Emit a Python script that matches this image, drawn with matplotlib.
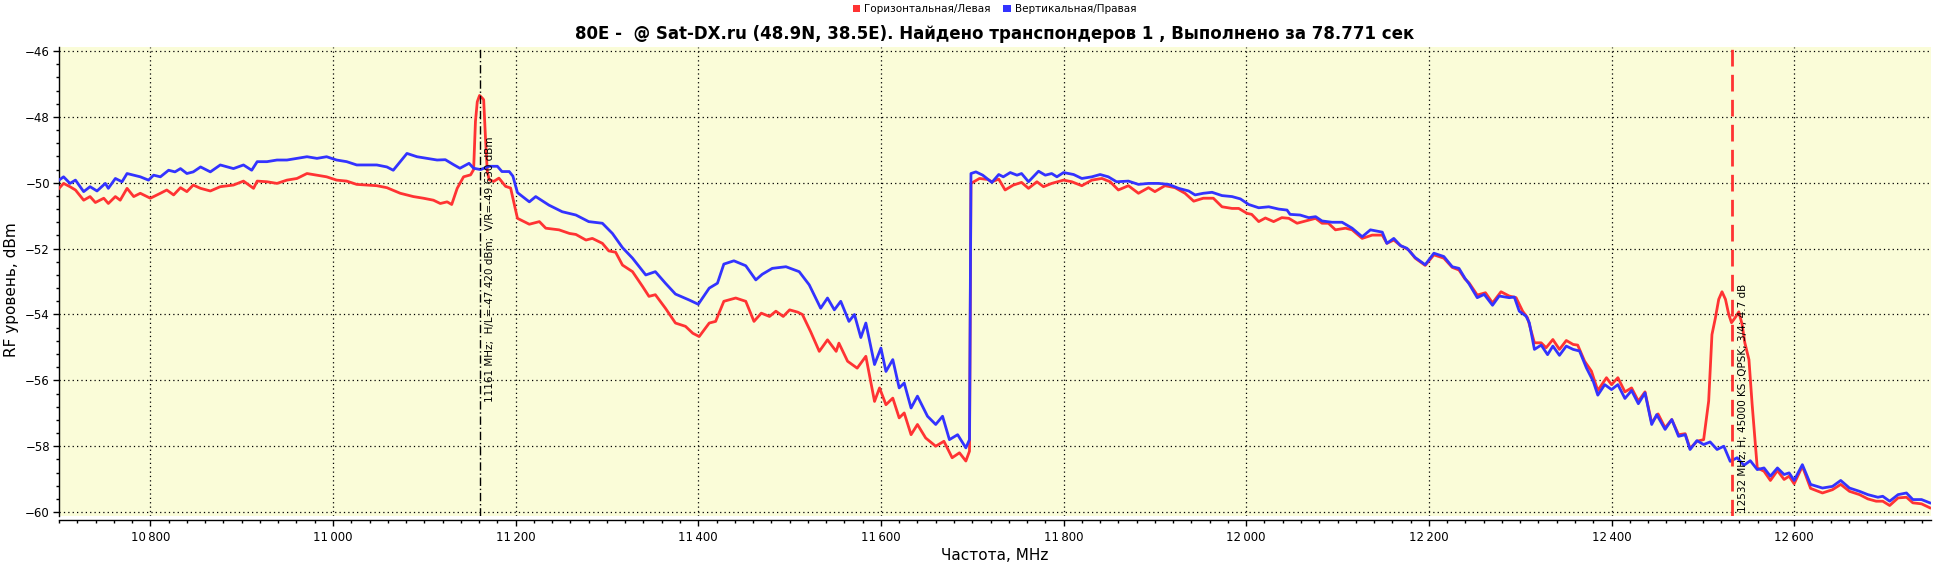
import matplotlib
matplotlib.use("Agg")
import matplotlib.pyplot as plt
from matplotlib.patches import Patch
from matplotlib.ticker import MultipleLocator, FuncFormatter

# ---------------- data ----------------
h_freq = [10700, 10705, 10712, 10718, 10727, 10734, 10739.8, 10749, 10754, 10761.7, 10767, 10774.5, 10781.8, 10789,
          10800, 10811, 10818, 10825.5, 10833, 10840, 10847, 10855, 10865.7, 10876.6, 10891, 10902, 10913, 10917,
          10927.7, 10938.7, 10949.6, 10960.6, 10971.5, 10982.5, 10993, 11004, 11015, 11026, 11037, 11048, 11059,
          11073.7, 11088, 11099, 11110, 11117.5, 11125, 11130, 11136, 11143, 11150.7, 11154, 11156, 11158, 11160.5,
          11163.5, 11165, 11167, 11169, 11171, 11176, 11181.7, 11189, 11194.5, 11202, 11215, 11226, 11233, 11247.5,
          11259, 11266, 11277, 11284, 11295, 11302, 11309.5, 11317, 11328, 11339, 11346, 11353, 11364, 11375, 11386,
          11394, 11401, 11412, 11419, 11428, 11441, 11452, 11461, 11469, 11478, 11485, 11493, 11500, 11509, 11514,
          11523, 11532.5, 11541.5, 11551, 11554, 11563.5, 11574, 11583.5, 11593, 11598.5, 11605.5, 11613, 11620,
          11625.5, 11633, 11640, 11649, 11660, 11669, 11678, 11686, 11693, 11697, 11698.6, 11708, 11717, 11721.5,
          11729, 11736, 11745, 11754, 11761.6, 11770.8, 11778, 11787, 11800, 11809, 11820, 11831, 11842, 11851,
          11860, 11871, 11882, 11893, 11900, 11911, 11922, 11933, 11942.5, 11953, 11964, 11973.5, 11984.5, 11991.8,
          12000.9, 12006, 12013.7, 12021, 12030, 12039, 12046.6, 12055.7, 12065, 12076, 12083, 12090, 12097.7,
          12108.7, 12116, 12127, 12138, 12149, 12154, 12161.6, 12169, 12178, 12185, 12196, 12205.5, 12216.4,
          12225.6, 12233, 12239.5, 12244, 12253, 12262, 12269.7, 12279, 12288, 12295.5, 12302.7, 12308, 12315.6,
          12323, 12328.4, 12335.8, 12343, 12350.5, 12358, 12363, 12370.6, 12378, 12385, 12394.5, 12400, 12407,
          12414.7, 12422, 12429.4, 12436.7, 12444, 12451, 12458.7, 12466, 12473.4, 12480.7, 12486, 12493.6,
          12500.9, 12506.4, 12510, 12513.8, 12517.4, 12521, 12524.8, 12528.4, 12531.4, 12535.8, 12539.4, 12543,
          12546, 12550.5, 12554, 12559.6, 12567, 12574, 12581.7, 12589, 12594.5, 12600, 12609, 12618, 12631,
          12642, 12651, 12660.6, 12671.6, 12680.7, 12689.8, 12697, 12704.6, 12713.8, 12723, 12730, 12739.5, 12748.6]
h_level = [-50.17, -50.02, -50.12, -50.22, -50.53, -50.42, -50.6, -50.47, -50.63, -50.42, -50.53, -50.17, -50.42, -50.32,
           -50.47, -50.32, -50.22, -50.37, -50.15, -50.27, -50.07, -50.17, -50.25, -50.12, -50.07, -49.95, -50.17, -49.95,
           -49.97, -50.02, -49.92, -49.87, -49.72, -49.77, -49.82, -49.92, -49.95, -50.05, -50.07, -50.09, -50.15,
           -50.32, -50.42, -50.47, -50.53, -50.63, -50.58, -50.66, -50.17, -49.82, -49.76, -49.6, -48.14, -47.54, -47.35,
           -47.43, -47.48, -48.65, -49.66, -49.91, -49.96, -49.86, -50.11, -50.16, -51.08, -51.26, -51.18, -51.38, -51.43,
           -51.54, -51.57, -51.74, -51.69, -51.84, -52.07, -52.11, -52.5, -52.7, -53.15, -53.45, -53.4, -53.81, -54.26, -54.36,
           -54.57, -54.67, -54.26, -54.21, -53.6, -53.5, -53.6, -54.21, -53.96, -54.06, -53.9, -54.06, -53.86, -53.93, -54.0,
           -54.52, -55.12, -54.77, -55.12, -54.87, -55.42, -55.63, -55.27, -56.64, -56.23, -56.74, -56.54, -57.14,
           -56.99, -57.65, -57.34, -57.75, -58.0, -57.85, -58.35, -58.2, -58.45, -58.15, -50.02, -49.87, -49.9, -49.97,
           -49.89, -50.22, -50.07, -49.99, -50.17, -49.97, -50.12, -50.02, -49.92, -49.97, -50.09, -49.92, -49.87, -49.97,
           -50.22, -50.09, -50.32, -50.15, -50.27, -50.09, -50.15, -50.32, -50.56, -50.47, -50.47, -50.73, -50.78, -50.78,
           -50.93, -50.96, -51.18, -51.07, -51.18, -51.06, -51.08, -51.23, -51.16, -51.08, -51.23, -51.23, -51.43,
           -51.38, -51.43, -51.69, -51.59, -51.59, -51.84, -51.74, -51.91, -52.04, -52.29, -52.51, -52.19, -52.29,
           -52.57, -52.65, -52.92, -53.04, -53.41, -53.34, -53.65, -53.31, -53.44, -53.49, -53.9, -54.1, -54.86,
           -54.86, -55.01, -54.76, -55.06, -54.79, -54.91, -54.93, -55.42, -55.72, -56.31, -55.92, -56.13, -55.92,
           -56.35, -56.23, -56.63, -56.35, -57.29, -57.02, -57.44, -57.19, -57.65, -57.62, -58.07, -57.85,
           -57.8, -56.63, -54.61, -54.1, -53.54, -53.31, -53.54, -54.0, -54.25, -54.08, -53.92, -54.3,
           -54.86, -55.37, -56.73, -58.66, -58.76, -59.04, -58.74, -59.01, -58.91, -59.14, -58.61, -59.28, -59.42,
           -59.32, -59.16, -59.37, -59.47, -59.6, -59.67, -59.67, -59.8, -59.57, -59.55, -59.72, -59.75, -59.87]

v_freq = [10700, 10705, 10712, 10718, 10727, 10734, 10741.6, 10750.7, 10754, 10761.7, 10769, 10774.5, 10781.8, 10789,
          10798, 10803.6, 10811, 10820, 10827, 10833, 10840, 10847, 10855, 10865.7, 10876.6, 10891, 10902, 10911,
          10917, 10927.7, 10938.7, 10949.6, 10960.6, 10971.5, 10982.5, 10993, 11004, 11015, 11026, 11037, 11048,
          11059, 11066, 11073.7, 11081, 11092, 11103, 11114, 11123, 11132, 11139, 11149, 11154, 11161.6, 11171,
          11180, 11185, 11193, 11197, 11202, 11215, 11222, 11236.5, 11251, 11266, 11280, 11295, 11306, 11317, 11328,
          11342.5, 11353, 11364, 11375, 11390, 11400, 11412, 11421, 11428, 11439, 11452, 11463, 11470, 11481, 11496,
          11510.5, 11521.5, 11534, 11541.5, 11549, 11556, 11565, 11571, 11578, 11583.5, 11593, 11600, 11605.5,
          11613, 11620, 11625.5, 11633, 11640, 11651, 11660, 11667.5, 11675, 11684, 11693, 11697, 11698.6, 11704,
          11711.5, 11721.5, 11729, 11734, 11741.6, 11749, 11754, 11761.6, 11772.6, 11780, 11787, 11792.7, 11800,
          11811, 11820, 11831, 11840, 11849, 11858, 11871, 11882, 11893, 11904, 11915, 11926, 11937, 11944, 11953,
          11962.6, 11973.5, 11984.5, 11993.6, 12002.7, 12013.7, 12024.7, 12035.6, 12044.7, 12048, 12059, 12068.5,
          12076, 12083, 12094, 12105, 12116, 12127, 12136, 12149, 12154, 12161.6, 12169, 12176, 12185, 12196,
          12205.5, 12216.4, 12225.6, 12233, 12239.5, 12244, 12253, 12260.6, 12269.7, 12277, 12288, 12293.6, 12299,
          12306.4, 12310, 12315.6, 12323, 12330, 12335.8, 12343, 12350.5, 12358, 12365, 12372.5, 12380, 12385,
          12392.6, 12400, 12407, 12414.7, 12422, 12429.4, 12436.7, 12444, 12449.5, 12458.7, 12466, 12473.4,
          12480.7, 12486, 12493.6, 12500.9, 12508, 12515.6, 12523, 12530, 12537.6, 12545, 12552, 12559.6, 12567,
          12574, 12581.7, 12589, 12594.5, 12600, 12609, 12618, 12631, 12642, 12651, 12660.6, 12671.6, 12680.7,
          12691.7, 12697, 12704.6, 12713.8, 12723, 12730, 12739.5, 12748.6]
v_level = [-49.92, -49.82, -50.02, -49.92, -50.27, -50.12, -50.25, -50.02, -50.17, -49.87, -49.97, -49.72, -49.77, -49.82,
           -49.92, -49.77, -49.82, -49.62, -49.67, -49.57, -49.72, -49.67, -49.52, -49.67, -49.46, -49.57, -49.46, -49.62,
           -49.36, -49.36, -49.31, -49.31, -49.26, -49.21, -49.26, -49.21, -49.31, -49.36, -49.46, -49.46, -49.46,
           -49.52, -49.62, -49.36, -49.11, -49.21, -49.26, -49.31, -49.30, -49.45, -49.56, -49.41, -49.56, -49.60, -49.50,
           -49.50, -49.66, -49.66, -49.8, -50.3, -50.58, -50.42, -50.68, -50.88, -50.98, -51.18, -51.23, -51.54, -51.97, -52.29,
           -52.8, -52.7, -53.05, -53.38, -53.56, -53.69, -53.2, -53.05, -52.47, -52.37, -52.52, -52.95, -52.78, -52.6, -52.55,
           -52.7, -53.1, -53.81, -53.5, -53.86, -53.6, -54.21, -54.0, -54.7, -54.26, -55.52, -55.02, -55.73,
           -55.37, -56.23, -56.08, -56.84, -56.48, -57.09, -57.34, -57.09, -57.8, -57.65, -58.05, -57.8, -49.72, -49.67,
           -49.77, -49.99, -49.75, -49.82, -49.69, -49.77, -49.72, -49.97, -49.65, -49.77, -49.72, -49.82, -49.69,
           -49.75, -49.87, -49.82, -49.75, -49.82, -49.97, -49.95, -50.05, -50.02, -50.02, -50.05, -50.17, -50.25, -50.37, -50.32,
           -50.29, -50.39, -50.42, -50.49, -50.66, -50.76, -50.73, -50.8, -50.83, -50.96, -50.98, -51.06,
           -51.03, -51.16, -51.2, -51.2, -51.38, -51.64, -51.43, -51.5, -51.84, -51.69, -51.91, -51.99, -52.27, -52.49,
           -52.14, -52.24, -52.55, -52.6, -52.9, -53.07, -53.49, -53.39, -53.72, -53.44, -53.49, -53.47, -53.9,
           -54.05, -54.25, -55.06, -54.93, -55.22, -54.96, -55.24, -54.96, -55.06, -55.11, -55.62, -56.03, -56.45,
           -56.13, -56.28, -56.13, -56.55, -56.31, -56.71, -56.38, -57.34, -57.04, -57.49, -57.19, -57.7,
           -57.65, -58.1, -57.83, -57.95, -57.87, -58.1, -58.0, -58.46, -58.35, -58.58, -58.44, -58.71, -58.66,
           -58.91, -58.66, -58.86, -58.81, -59.04, -58.56, -59.16, -59.27, -59.22, -59.04, -59.27, -59.37, -59.47,
           -59.55, -59.52, -59.67, -59.47, -59.42, -59.62, -59.62, -59.72]

series_names = ["Горизонтальная/Левая", "Вертикальная/Правая"]
marker1_freq = 11161
marker1_text = "11161 MHz;  H/L=-47.420 dBm;  V/R=-49.630 dBm"
marker2_freq = 12532
marker2_text = "12532 MHz; H; 45000 KS ;QPSK; 3/4; 4.7 dB"
title = "80E -  @ Sat-DX.ru (48.9N, 38.5E). Найдено транспондеров 1 , Выполнено за 78.771 сек"
x_ticks = [10800, 11000, 11200, 11400, 11600, 11800, 12000, 12200, 12400, 12600]
y_ticks = [-46, -48, -50, -52, -54, -56, -58, -60]

RED = "#ff3333"
BLUE = "#3333ff"

# ---------------- figure ----------------
fig = plt.figure(figsize=(19.35, 5.67), dpi=100)
ax = fig.add_axes([0.0305, 0.0899, 0.9675, 0.8271])
ax.set_facecolor("#fafcd8")

ax.plot(h_freq, h_level, color=RED, lw=2.0, zorder=3)
ax.plot(v_freq, v_level, color=BLUE, lw=2.0, zorder=4)

ax.set_xlim(10700, 12750)
ax.set_ylim(-60.12, -45.88)

ax.set_xticks(x_ticks)
ax.set_yticks(y_ticks)
ax.xaxis.set_minor_locator(MultipleLocator(20))
ax.yaxis.set_minor_locator(MultipleLocator(0.4))
ax.xaxis.set_major_formatter(FuncFormatter(lambda v, p: f"{int(v):,}".replace(",", "\u2009")))
ax.tick_params(axis="both", which="major", labelsize=8.5, length=4.5, width=1, direction="out")
ax.tick_params(axis="both", which="minor", length=2.5, width=1, direction="out")
ax.tick_params(axis="x", pad=3)
ax.tick_params(axis="y", pad=2)

ax.grid(True, which="major", color="black", linestyle=(0, (1, 2.5)), linewidth=0.9)

for s in ["top", "right"]:
    ax.spines[s].set_visible(False)
ax.spines["bottom"].set_position(("outward", 3))
ax.spines["left"].set_linewidth(1)
ax.spines["bottom"].set_linewidth(1)

# markers
ax.axvline(marker1_freq, color="black", lw=1, linestyle=(0, (6, 2, 1, 2)), zorder=5)
ax.text(marker1_freq + 5, -56.65, marker1_text, rotation=90, fontsize=7.5,
        ha="left", va="bottom", zorder=6)
ax.axvline(marker2_freq, color=RED, lw=2, linestyle=(0, (6, 3)), zorder=5)
ax.text(marker2_freq + 6, -60.0, marker2_text, rotation=90, fontsize=7.5,
        ha="left", va="bottom", zorder=6)

fig.text(12 / 1935, 0.49, "RF уровень, dBm", fontsize=11, rotation=90, ha="center", va="center")
fig.text(0.514, 1 - 556 / 567, "Частота, MHz", fontsize=11, ha="center", va="center")

fig.text(0.514, 0.94, title, fontsize=12, fontweight="bold", ha="center", va="center")

handles = [Patch(facecolor=RED, edgecolor="none"), Patch(facecolor=BLUE, edgecolor="none")]
fig.legend(handles, series_names, loc="upper center", bbox_to_anchor=(0.514, 1.005), ncol=2,
           fontsize=7.5, frameon=False, handlelength=0.7, handleheight=0.7, handletextpad=0.4,
           columnspacing=1.2, borderpad=0.2)

fig.savefig("out.png", dpi=100)
